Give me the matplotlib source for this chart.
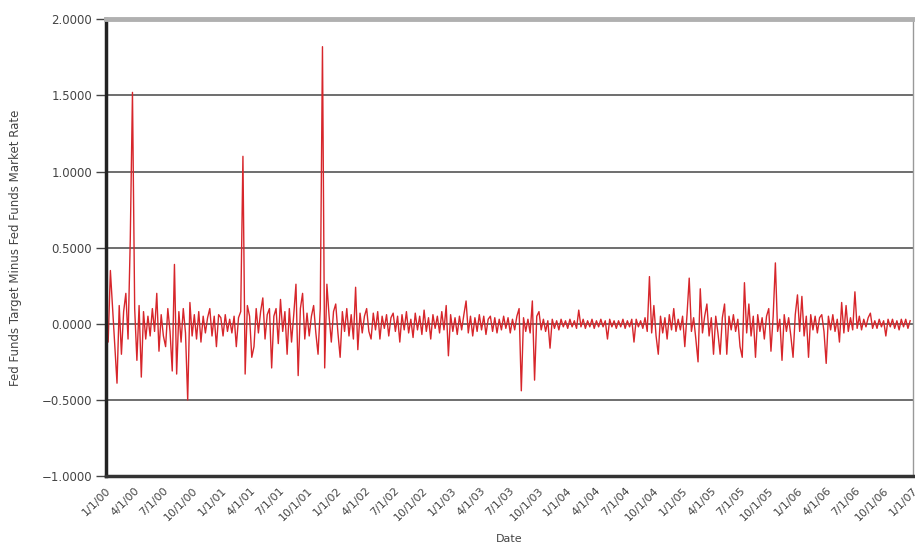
import numpy as np
import pandas as pd
import matplotlib
matplotlib.use("Agg")
import matplotlib.pyplot as plt
import matplotlib.dates as mdates
from matplotlib.ticker import FuncFormatter

# weekly readings of target minus market rate, one list per year
y2000 = [0.05, -0.12, 0.35, 0.1, -0.15, -0.39, 0.12, -0.2, 0.08, 0.2,
         -0.1, 0.55, 1.52, 0.1, -0.24, 0.12, -0.35, 0.08, -0.1, 0.05,
         -0.08, 0.1, -0.05, 0.2, -0.18, 0.06, -0.08, -0.15, 0.1, -0.05,
         -0.31, 0.39, -0.33, 0.08, -0.12, 0.1, -0.06, -0.5, 0.14, -0.08,
         0.06, -0.1, 0.08, -0.12, 0.05, -0.06, 0.04, 0.1, -0.08, 0.05,
         -0.15, 0.06]
y2001 = [0.04, -0.08, 0.06, -0.05, 0.03, -0.06, 0.05, -0.15, 0.04, 0.08,
         1.10, -0.33, 0.12, 0.05, -0.22, -0.15, 0.1, -0.06, 0.08, 0.17,
         -0.1, 0.06, 0.1, -0.29, 0.05, 0.1, -0.13, 0.16, -0.05, 0.08,
         -0.2, 0.1, -0.12, 0.06, 0.26, -0.34, 0.1, 0.2, -0.1, 0.07,
         -0.08, 0.05, 0.12, -0.06, -0.2, 0.1, 1.82, -0.29, 0.26, 0.05,
         -0.12, 0.08]
y2002 = [0.13, -0.06, -0.22, 0.08, -0.05, 0.1, -0.08, 0.06, -0.1, 0.24,
         -0.17, 0.07, -0.06, 0.05, 0.1, -0.05, -0.1, 0.07, -0.04, 0.08,
         -0.1, 0.05, -0.03, 0.06, -0.08, 0.04, 0.07, -0.05, 0.05, -0.12,
         0.06, -0.04, 0.08, -0.06, 0.03, -0.09, 0.07, -0.04, 0.05, -0.07,
         0.09, -0.05, 0.04, -0.1, 0.06, -0.03, 0.05, -0.06, 0.08, -0.04,
         0.12, -0.21]
y2003 = [0.06, -0.05, 0.04, -0.07, 0.05, -0.04, 0.06, 0.15, -0.06, 0.05,
         -0.08, 0.04, -0.05, 0.06, -0.04, 0.05, -0.07, 0.03, 0.05, -0.05,
         0.04, -0.06, 0.03, -0.04, 0.05, -0.03, 0.04, -0.06, 0.03, -0.04,
         0.05, 0.1, -0.44, 0.04, -0.05, 0.03, -0.06, 0.15, -0.37, 0.05,
         0.08, -0.04, 0.03, -0.05, 0.02, -0.16, 0.03, -0.03, 0.02, -0.04,
         0.03, -0.02]
y2004 = [0.02, -0.03, 0.03, -0.02, 0.02, -0.03, 0.09, -0.02, 0.03, -0.03,
         0.02, -0.02, 0.03, -0.03, 0.02, -0.02, 0.03, -0.02, 0.02, -0.1,
         0.03, -0.02, 0.02, -0.03, 0.02, -0.02, 0.03, -0.03, 0.02, -0.02,
         0.03, -0.12, 0.03, -0.02, 0.02, -0.03, 0.04, -0.05, 0.31, -0.06,
         0.12, -0.08, -0.2, 0.05, -0.06, 0.04, -0.1, 0.06, -0.04, 0.1,
         -0.05, 0.03]
y2005 = [-0.04, 0.05, -0.15, 0.06, 0.3, -0.05, 0.04, -0.1, -0.25, 0.23,
         -0.06, 0.05, 0.13, -0.08, 0.04, -0.2, 0.05, -0.06, -0.2, 0.04,
         0.13, -0.2, 0.05, -0.04, 0.06, -0.05, 0.03, -0.15, -0.22, 0.27,
         -0.06, 0.13, -0.08, 0.05, -0.22, 0.06, -0.05, 0.04, -0.1, 0.05,
         0.1, -0.18, 0.05, 0.40, -0.05, 0.03, -0.24, 0.06, -0.05, 0.04,
         -0.08, -0.22]
y2006 = [0.06, 0.19, -0.05, 0.18, -0.08, 0.05, -0.22, 0.06, -0.04, 0.05,
         -0.06, 0.04, 0.06, -0.05, -0.26, 0.05, -0.04, 0.06, -0.05, 0.03,
         -0.12, 0.14, -0.06, 0.12, -0.05, 0.04, -0.04, 0.21, -0.03, 0.05,
         -0.04, 0.03, -0.02, 0.04, 0.07, -0.03, 0.02, -0.03, 0.03, -0.02,
         0.02, -0.08, 0.03, -0.02, 0.03, -0.03, 0.02, -0.04, 0.03, -0.02,
         0.03, -0.03, 0.02]

y_ticks = [-1.0, -0.5, 0.0, 0.5, 1.0, 1.5, 2.0]


def main():
    values = y2000 + y2001 + y2002 + y2003 + y2004 + y2005 + y2006
    dates = pd.date_range("2000-01-01", periods=len(values), freq="7D")

    fig = plt.figure(figsize=(9.15, 5.51), dpi=100)
    ax = fig.add_axes([0.1158, 0.136, 0.882, 0.829])

    ax.plot(dates, values, color="#d7262b", linewidth=1.0)

    ax.set_ylim(-1.0, 2.0)
    ax.set_yticks(y_ticks)
    ax.yaxis.set_major_formatter(
        FuncFormatter(lambda v, p: f"{v:.4f}".replace("-", "\u2212")))
    ax.yaxis.grid(True, color="#555555", linewidth=1.2)
    ax.set_axisbelow(True)

    ax.set_xlim(pd.Timestamp("2000-01-01"), pd.Timestamp("2007-01-01"))
    ticks = pd.date_range("2000-01-01", "2007-01-01", freq="QS")
    ax.set_xticks(ticks)
    ax.set_xticklabels([f"{d.month}/{d.day}/{d.strftime('%y')}" for d in ticks],
                       rotation=45, ha="right", rotation_mode="anchor")

    ax.tick_params(axis="y", labelsize=8.5, colors="#444444", length=7,
                   width=1, pad=3)
    ax.tick_params(axis="x", labelsize=8, colors="#444444", length=0, pad=7)

    ax.spines["left"].set_linewidth(2.5)
    ax.spines["left"].set_color("#222222")
    ax.spines["bottom"].set_linewidth(2.5)
    ax.spines["bottom"].set_color("#333333")
    ax.spines["top"].set_linewidth(3.5)
    ax.spines["top"].set_color("#b0b0b0")
    ax.spines["right"].set_linewidth(1)
    ax.spines["right"].set_color("#999999")

    ax.set_ylabel("Fed Funds Target Minus Fed Funds Market Rate", fontsize=8.5,
                  color="#444444", labelpad=14)
    ax.set_xlabel("Date", fontsize=8, color="#444444", labelpad=8)

    fig.savefig("out.png", dpi=100)


if __name__ == '__main__':
    main()
